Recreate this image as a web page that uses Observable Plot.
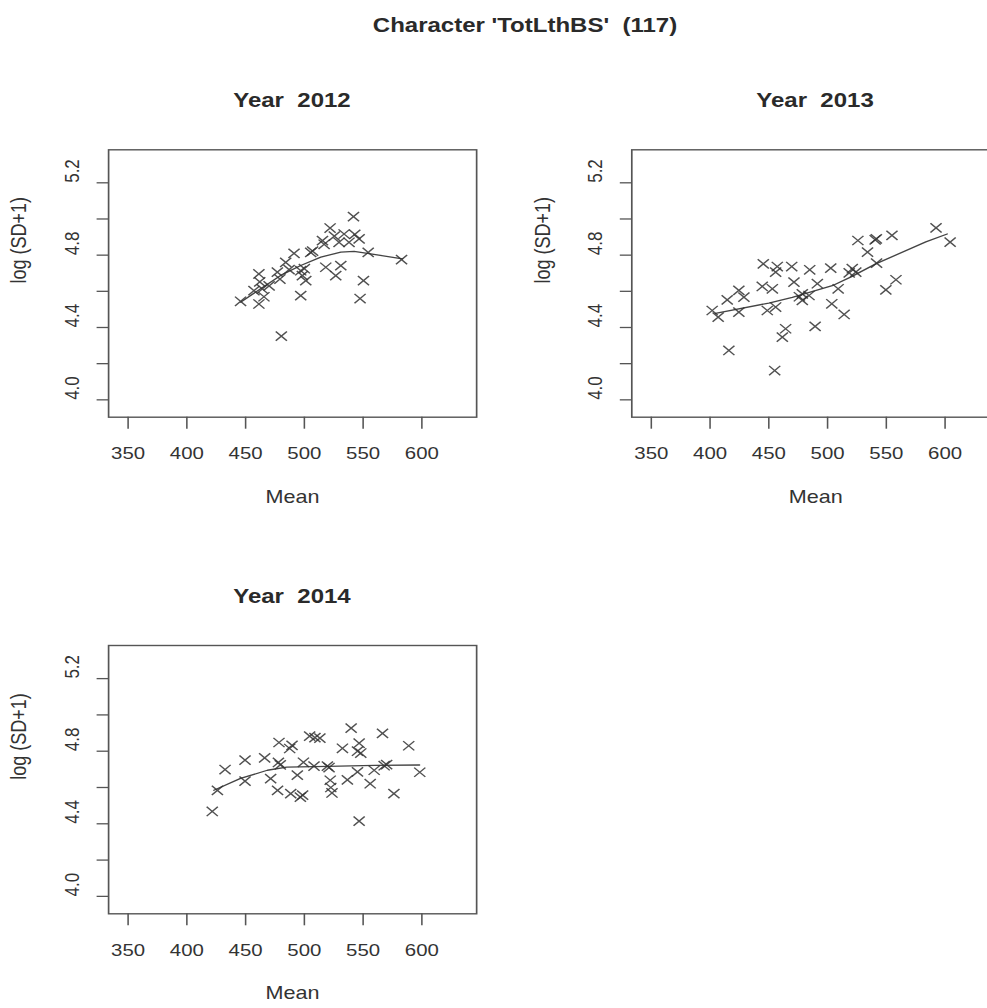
<!DOCTYPE html>
<html><head><meta charset="utf-8">
<script src="https://cdn.jsdelivr.net/npm/d3@7"></script>
<script src="https://cdn.jsdelivr.net/npm/@observablehq/plot@0.6"></script>
<style>
html,body{margin:0;padding:0;background:#fff;overflow:hidden;width:987px;height:1008px}
#stage{position:absolute;left:0;top:0;width:875px;height:1008px;transform:scaleX(1.2);transform-origin:0 0;font-family:"Liberation Sans",Arial,sans-serif;color:#333}
.t{position:absolute;text-align:center;font-weight:bold;font-size:20px;line-height:20px;white-space:pre;color:#2a2a2a}
.p{position:absolute}
</style></head><body><div id="stage"></div>
<script>
const mainTitle = "Character 'TotLthBS'  (117)";
const years = ["2012", "2013", "2014"];
const xTicks = [350, 400, 450, 500, 550, 600];
const yTicks = [4.0, 4.2, 4.4, 4.6, 4.8, 5.0, 5.2];
const yTickLabels = [4.0, 4.4, 4.8, 5.2];
const xDomain = [333.4, 646.6];
const yDomain = [3.904, 5.3825];
const xLabel = "Mean";
const yLabel = "log (SD+1)";

// Year 2012
const mean2012 = [541.8,521.9,533.8,542.9,546.6,529.5,515.4,516.8,538.0,505.4,491.2,554.3,582.7,484.1,496.9,498.3,518.2,531.0,526.7,461.3,479.2,550.3,457.1,464.2,445.7,461.3,496.9,547.4,480.4,465.6,477.0,501.2,500.0,462.0,507.0,525.5,470.0,487.0];
const lsd2012  = [5.013,4.950,4.917,4.915,4.890,4.871,4.880,4.860,4.871,4.815,4.810,4.815,4.775,4.760,4.714,4.687,4.733,4.742,4.687,4.696,4.668,4.659,4.604,4.613,4.545,4.530,4.576,4.560,4.352,4.570,4.706,4.659,4.725,4.652,4.822,4.905,4.630,4.720];
const fitX2012 = [445.7,462.8,479.8,496.9,514.0,531.0,542.3,555.1,583.5];
const fitY2012 = [4.540,4.614,4.688,4.743,4.789,4.817,4.821,4.808,4.780];

// Year 2013
const mean2013 = [445.3,457.2,469.5,484.8,502.7,518.4,524.0,455.8,471.4,444.4,453.0,491.3,478.5,478.5,484.2,509.0,503.6,514.1,525.8,540.5,541.5,554.8,592.3,604.3,534.0,541.7,549.6,558.2,401.8,406.9,414.6,424.5,428.8,424.5,448.7,455.8,464.3,461.5,489.4,416.0,455.0,521.0,476.0];
const lsd2013  = [4.752,4.737,4.737,4.719,4.728,4.702,4.706,4.706,4.651,4.627,4.614,4.642,4.586,4.550,4.577,4.614,4.531,4.472,4.881,4.885,4.890,4.909,4.951,4.872,4.817,4.756,4.608,4.664,4.494,4.457,4.553,4.605,4.568,4.485,4.494,4.513,4.393,4.347,4.406,4.273,4.162,4.725,4.570];
const fitX2013 = [404.6,450.0,470.0,504.0,520.0,541.0,583.6,601.8];
const fitY2013 = [4.478,4.535,4.567,4.631,4.680,4.752,4.873,4.917];

// Year 2014
const mean2014 = [421.6,426.0,432.5,449.5,449.5,466.2,478.4,489.5,487.5,504.5,513.2,509.0,539.8,566.5,588.8,598.2,532.4,546.6,545.2,548.0,477.9,479.5,471.3,477.2,488.4,496.6,498.5,494.0,499.2,508.2,519.6,521.0,522.0,523.5,522.5,536.6,545.2,556.0,559.4,570.0,567.9,576.2,546.6];
const lsd2014  = [4.468,4.584,4.699,4.751,4.635,4.763,4.848,4.832,4.815,4.883,4.872,4.875,4.927,4.898,4.830,4.684,4.816,4.844,4.800,4.790,4.738,4.725,4.649,4.584,4.566,4.547,4.558,4.668,4.739,4.718,4.718,4.710,4.640,4.570,4.600,4.642,4.686,4.621,4.695,4.726,4.720,4.566,4.415];
const fitX2014 = [423.0,445.7,468.5,485.0,520.0,560.0,598.0];
const fitY2014 = [4.585,4.650,4.695,4.712,4.716,4.722,4.724];

const FONT = '"Liberation Sans", Arial, sans-serif';
const stage = document.getElementById("stage");

function addTitle(text, left, top, width) {
  const d = document.createElement("div");
  d.className = "t";
  d.textContent = text;
  d.style.left = left + "px";
  d.style.top = top + "px";
  d.style.width = width + "px";
  stage.appendChild(d);
}

function panel(xs, ys, fx, fy, height, marginTop, marginBottom) {
  const pts = xs.map((x, i) => ({x, y: ys[i]}));
  const fit = fx.map((x, i) => ({x, y: fy[i]}));
  return Plot.plot({
    width: 437.5, height, marginLeft: 90, marginRight: 40.8, marginTop, marginBottom,
    style: {fontFamily: FONT, fontSize: "17px", color: "#333", background: "transparent", overflow: "visible"},
    x: {domain: xDomain},
    y: {domain: yDomain},
    marks: [
      Plot.frame({stroke: "#555", strokeWidth: 1.4}),
      Plot.axisX({ticks: xTicks, tickSize: 12, tickPadding: 18, label: null, fontSize: 17, fill: "#333", stroke: "#555", strokeWidth: 1.3}),
      Plot.axisY({ticks: yTicks, tickSize: 9.5, tickFormat: () => "", label: null, stroke: "#555", strokeWidth: 1.3}),
      Plot.text(yTickLabels, {y: d => d, frameAnchor: "left", dx: -30.25, rotate: -90, text: d => d.toFixed(1), fontSize: 17, fill: "#333"}),
      Plot.text([xLabel], {frameAnchor: "bottom", dy: 85.3, text: d => d, fontSize: 18, fill: "#333"}),
      Plot.text([yLabel], {frameAnchor: "left", dx: -74.2, rotate: -90, text: d => d, fontSize: 18, fill: "#333"}),
      Plot.line(fit, {x: "x", y: "y", stroke: "#444", strokeWidth: 1.3}),
      Plot.dot(pts, {x: "x", y: "y", symbol: "times", r: 4.3, stroke: "#333", strokeWidth: 1.3, strokeOpacity: 0.85})
    ]
  });
}

function place(svg, left, top) {
  const w = document.createElement("div");
  w.className = "p";
  w.style.left = left + "px";
  w.style.top = top + "px";
  w.appendChild(svg);
  stage.appendChild(w);
}

addTitle(mainTitle, 0, 14.6, 875);
addTitle("Year  " + years[0], 43.3, 90.1, 400);
addTitle("Year  " + years[1], 479.2, 90.1, 400);
addTitle("Year  " + years[2], 43.3, 585.8, 400);

place(panel(mean2012, lsd2012, fitX2012, fitY2012, 400, 34.3, 98.3), 0, 115);
place(panel(mean2013, lsd2013, fitX2013, fitY2013, 400, 34.3, 98.3), 435.8, 115);
place(panel(mean2014, lsd2014, fitX2014, fitY2014, 397, 34, 94.7), 0, 611);
</script></body></html>
